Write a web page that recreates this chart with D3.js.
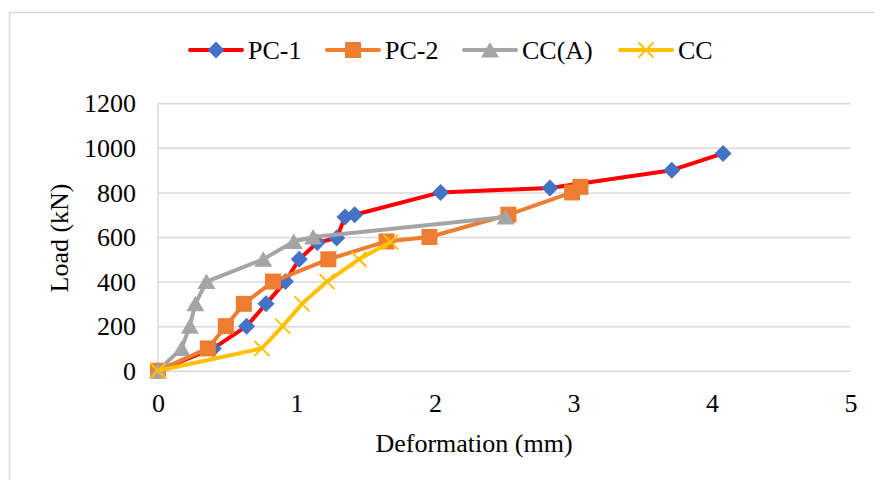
<!DOCTYPE html>
<html><head><meta charset="utf-8">
<script src="https://cdn.jsdelivr.net/npm/d3@7"></script>
<style>body{margin:0;background:#fff}svg{display:block}text{font-family:"Liberation Serif","Times New Roman",serif;fill:#000}</style>
</head><body>
<svg id="c" width="874" height="480"></svg>
<script>
const seriesNames = ["PC-1", "PC-2", "CC(A)", "CC"];
const pc1X = [0, 0.40, 0.64, 0.78, 0.92, 1.02, 1.15, 1.29, 1.35, 1.42, 2.04, 2.83, 3.71, 4.08];
const pc1Y = [0, 100, 200, 300, 400, 500, 575, 595, 690, 700, 800, 820, 900, 975];
const pc2X = [0, 0.36, 0.49, 0.62, 0.83, 1.23, 1.65, 1.96, 2.53, 2.99, 3.05];
const pc2Y = [0, 100, 200, 300, 400, 500, 580, 600, 700, 800, 825];
const ccaX = [0, 0.17, 0.23, 0.27, 0.35, 0.76, 0.98, 1.12, 2.51];
const ccaY = [0, 100, 200, 300, 400, 500, 580, 600, 690];
const ccX = [0, 0.75, 0.90, 1.04, 1.22, 1.45, 1.68];
const ccY = [0, 100, 200, 300, 400, 500, 578];
const xTicks = [0, 1, 2, 3, 4, 5];
const yTicks = [0, 200, 400, 600, 800, 1000, 1200];

const svg = d3.select("#c");
svg.append("rect").attr("width", 874).attr("height", 480).attr("fill", "#fff");
svg.append("rect").attr("x", 9.5).attr("y", 12.5).attr("width", 1000).attr("height", 1000)
  .attr("fill", "none").attr("stroke", "#d9d9d9").attr("stroke-width", 1.5);

const x = d3.scaleLinear().domain([0, 5]).range([158, 850.5]);
const y = d3.scaleLinear().domain([0, 1200]).range([370.7, 103.3]);

// gridlines
const gy = d3.axisLeft(y).tickValues(yTicks).tickSize(-(850.5 - 158)).tickFormat("");
const g1 = svg.append("g").attr("transform", "translate(158,0)").call(gy);
g1.select(".domain").remove();
g1.selectAll("line").attr("stroke", "#d9d9d9").attr("stroke-width", 1.5);
svg.append("line").attr("x1", 158).attr("x2", 158).attr("y1", y(1200)).attr("y2", y(0))
  .attr("stroke", "#d9d9d9").attr("stroke-width", 1.5);

// y tick labels
const ya = d3.axisLeft(y).tickValues(yTicks).tickSize(0).tickPadding(0).tickFormat(d3.format("d"));
const g2 = svg.append("g").attr("transform", "translate(136,0)").call(ya);
g2.select(".domain").remove();
g2.selectAll("text").attr("font-size", 26).attr("font-family", "Liberation Serif").attr("fill", "#000").attr("dy", "0.33em");

// x tick labels
const xa = d3.axisBottom(x).tickValues(xTicks).tickSize(0).tickPadding(0).tickFormat(d3.format("d"));
const g3 = svg.append("g").attr("transform", "translate(0,412)").call(xa);
g3.select(".domain").remove();
g3.selectAll("text").attr("font-size", 26).attr("font-family", "Liberation Serif").attr("fill", "#000").attr("dy", 0).attr("y", 0);

// axis titles
svg.append("text").attr("x", 474).attr("y", 452).attr("text-anchor", "middle").attr("font-size", 26).text("Deformation (mm)");
svg.append("text").attr("transform", "translate(68,238) rotate(-90)").attr("text-anchor", "middle").attr("font-size", 26).text("Load (kN)");

const diamond = "M0,-8.5L8.5,0L0,8.5L-8.5,0Z";
const square = "M-8,-8H8V8H-8Z";
const tri = "M0,-8L9,7.5L-9,7.5Z";
const cross = "M-7.5,-7.5L7.5,7.5M7.5,-7.5L-7.5,7.5";

const series = [
  {name: seriesNames[0], xs: pc1X, ys: pc1Y, line: "#FF0000", mark: diamond, fill: "#4472C4", stroke: "none"},
  {name: seriesNames[1], xs: pc2X, ys: pc2Y, line: "#ED7D31", mark: square, fill: "#ED7D31", stroke: "none"},
  {name: seriesNames[2], xs: ccaX, ys: ccaY, line: "#A5A5A5", mark: tri, fill: "#A5A5A5", stroke: "none"},
  {name: seriesNames[3], xs: ccX, ys: ccY, line: "#FFC000", mark: cross, fill: "none", stroke: "#FFC000"}
];

const lineGen = d3.line().x(d => x(d[0])).y(d => y(d[1]));
series.forEach(s => {
  const pts = s.xs.map((v, i) => [v, s.ys[i]]);
  const g = svg.append("g");
  g.append("path").attr("d", lineGen(pts)).attr("fill", "none").attr("stroke", s.line)
    .attr("stroke-width", 4).attr("stroke-linejoin", "round").attr("stroke-linecap", "round");
  g.selectAll("path.m").data(pts).enter().append("path").attr("class", "m")
    .attr("transform", d => `translate(${x(d[0])},${y(d[1])})`)
    .attr("d", s.mark).attr("fill", s.fill).attr("stroke", s.stroke).attr("stroke-width", 2);
});

// legend
const legX = [216, 353, 490, 646];
series.forEach((s, i) => {
  const cx = legX[i], cy = 50;
  svg.append("line").attr("x1", cx - 26).attr("x2", cx + 26).attr("y1", cy).attr("y2", cy)
    .attr("stroke", s.line).attr("stroke-width", 4).attr("stroke-linecap", "round");
  svg.append("path").attr("transform", `translate(${cx},${cy})`).attr("d", s.mark)
    .attr("fill", s.fill).attr("stroke", s.stroke).attr("stroke-width", 2);
  svg.append("text").attr("x", cx + 32).attr("y", 59).attr("font-size", 26).text(s.name);
});
</script>
</body></html>
